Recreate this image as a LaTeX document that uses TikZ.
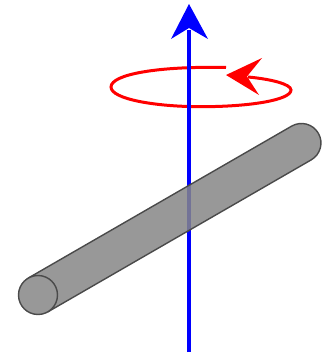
\documentclass[tikz,border=0pt]{standalone}
\definecolor{rodgray}{HTML}{878787}
\definecolor{rodface}{HTML}{989898}
\definecolor{rodedge}{HTML}{4A4A4A}
\tikzset{
  axisline/.style={draw=blue,line width=3.4pt},
  axishead/.style={fill=blue,draw=none},
  spinline/.style={draw=red,line width=3pt},
  spinhead/.style={fill=red,draw=none},
  rodbody/.style={fill=rodgray,fill opacity=0.86,draw=rodedge,line width=1.4pt,line join=round},
  rodend/.style={fill=rodface,draw=rodedge,line width=1.4pt}
}
\begin{document}
\begin{tikzpicture}[x=1pt,y=-1pt]
\useasboundingbox (0,0) rectangle (328,355);
% rotation arrow
\draw[spinline] (226,67.5) .. controls (160,66) and (111,74) .. (111,87)
  .. controls (111,99) and (155,106.7) .. (201,106.7)
  .. controls (250,106.7) and (291,100) .. (291,90)
  .. controls (291,84) and (270,79) .. (248,77);
\fill[spinhead] (226,75) -- (262,58) -- (247,76.5) -- (259,95) -- cycle;
% axis
\draw[axisline] (189,352) -- (189,30);
\fill[axishead] (189,4) -- (208,39) -- (189,28) -- (171,39) -- cycle;
% rod
\draw[rodbody] (28.2,278.1) -- (291.7,126.1) arc[start angle=-120,end angle=60,radius=19.5] -- (47.8,311.9) -- cycle;
\draw[rodend] (38,295) circle[radius=19.5];
\end{tikzpicture}
\end{document}
